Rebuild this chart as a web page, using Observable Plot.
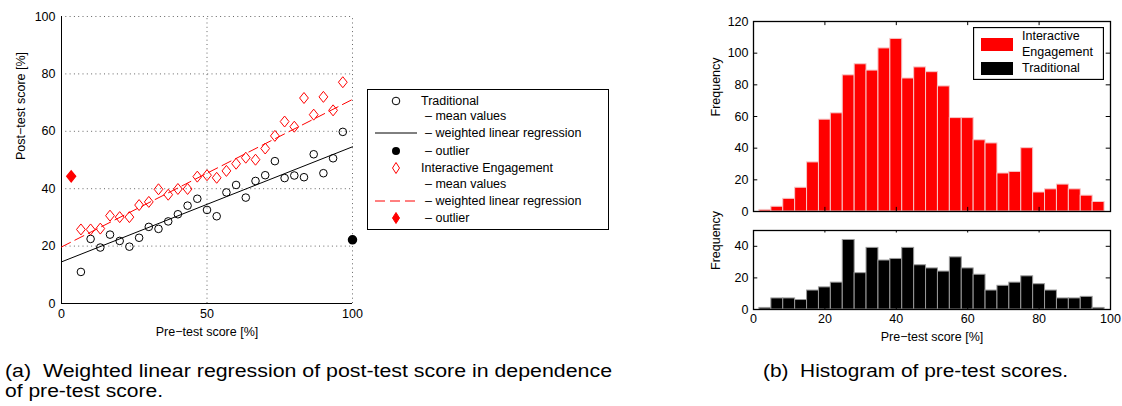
<!DOCTYPE html>
<html><head><meta charset="utf-8">
<script src="https://cdn.jsdelivr.net/npm/d3@7"></script>
<script src="https://cdn.jsdelivr.net/npm/@observablehq/plot@0.6"></script>
<style>
body{margin:0;background:#fff;font-family:"Liberation Sans",Arial,Helvetica,sans-serif;}
#root{position:relative;width:1122px;height:406px;overflow:hidden;background:#fff;}
</style></head><body><div id="root"></div>
<script>
// ---------- data ----------
const meanX = [6.67,10,13.33,16.67,20,23.33,26.67,30,33.33,36.67,40,43.33,46.67,50,53.33,56.67,60,63.33,66.67,70,73.33,76.67,80,83.33,86.67,90,93.33,96.67];
const tradMean = [11.0,22.5,19.5,24.0,21.8,19.8,22.9,26.7,26.0,28.6,31.1,34.1,36.5,32.6,30.4,38.7,41.3,36.9,42.7,44.7,49.6,43.7,44.6,44.0,52.0,45.4,50.6,59.8];
const ieMean = [25.8,25.8,26.1,30.6,30.1,30.1,34.3,35.4,39.8,37.9,39.9,39.9,44.2,44.7,43.8,46.2,48.7,50.8,50.1,54.0,58.4,63.4,61.6,71.6,65.8,72.0,67.3,77.1];
const tradOutlierX = [100], tradOutlierY = [22.2];
const ieOutlierX = [3.33], ieOutlierY = [44.3];
const fitX = [0, 100];
const tradFitY = [14.5, 54.6];
const ieFitY = [19.7, 71.1];

const binCenters = [3.33,6.67,10,13.33,16.67,20,23.33,26.67,30,33.33,36.67,40,43.33,46.67,50,53.33,56.67,60,63.33,66.67,70,73.33,76.67,80,83.33,86.67,90,93.33,96.67];
const ieCounts = [1,3,8,15,31,58,62,86,93,89,103,109,84,91,88,79,59,59,45,43,24,25,40,12,14,17,14,10,6];
const tradCounts = [1,7,7,6,12,14,17,44,23,39,31,32,39,28,26,24,33,26,22,12,15,17,21,16,12,7,7,8,1];

const xTicksA = [0,50,100];
const yTicksA = [0,20,40,60,80,100];
const xTicksB = [0,20,40,60,80,100];
const yTicksTop = [0,20,40,60,80,100,120];
const yTicksBot = [0,20,40];

const captionA = ["(a)\u00A0\u00A0Weighted linear regression of post-test score in dependence", "of pre-test score."];
const captionB = "(b)\u00A0\u00A0Histogram of pre-test scores.";

const RED = "#ff0000";
const FONT = "'Liberation Sans', Arial, Helvetica, sans-serif";
const root = document.getElementById("root");

// tall diamond symbol (MATLAB style)
const tallDiamond = {draw(ctx, size){ const w = Math.sqrt(size)*0.62, h = w*1.25; ctx.moveTo(0,-h); ctx.lineTo(w,0); ctx.lineTo(0,h); ctx.lineTo(-w,0); ctx.closePath(); }};

function place(node, left, top){ node.style.position="absolute"; node.style.left=left+"px"; node.style.top=top+"px"; root.appendChild(node); }

const baseStyle = {fontFamily: FONT, fontSize: "12px", color: "#000", background: "transparent", overflow: "visible"};

// ---------- (a) scatter + regression ----------
const trad = meanX.map((x,i)=>({x, y: tradMean[i]}));
const ie = meanX.map((x,i)=>({x, y: ieMean[i]}));
const tradFit = fitX.map((x,i)=>({x, y: tradFitY[i]}));
const ieFit = fitX.map((x,i)=>({x, y: ieFitY[i]}));
const tradOut = tradOutlierX.map((x,i)=>({x, y: tradOutlierY[i]}));
const ieOut = ieOutlierX.map((x,i)=>({x, y: ieOutlierY[i]}));

const plotA = Plot.plot({
  width: 362, height: 345,
  marginLeft: 61, marginRight: 10, marginTop: 16, marginBottom: 42,
  style: baseStyle,
  x: {domain: [0,100], axis: null},
  y: {domain: [0,100], axis: null},
  marks: [
    Plot.ruleY(yTicksA.filter(d=>d>0), {x1: 0, x2: 100, stroke: "#666", strokeDasharray: "1,3.3", strokeWidth: 1}),
    Plot.ruleX(xTicksA.filter(d=>d>0), {y1: 0, y2: 100, stroke: "#666", strokeDasharray: "1,3.3", strokeWidth: 1}),
    Plot.ruleX([0], {y1: 0, y2: 100, stroke: "#000"}),
    Plot.ruleY([0], {x1: 0, x2: 100, stroke: "#000"}),
    Plot.text(yTicksA, {x: 0, y: d=>d, text: d=>String(d), textAnchor: "end", dx: -6, fontSize: 12.5}),
    Plot.text(xTicksA, {x: d=>d, y: 0, text: d=>String(d), lineAnchor: "top", dy: 6, fontSize: 12.5}),
    Plot.text(["Pre−test score [%]"], {frameAnchor: "bottom", lineAnchor: "middle", dy: 28, fontSize: 12.5}),
    Plot.text(["Post−test score [%]"], {frameAnchor: "left", rotate: -90, dx: -41, fontSize: 12.5}),
    Plot.line(tradFit, {x: "x", y: "y", stroke: "#000", strokeWidth: 1}),
    Plot.line(ieFit, {x: "x", y: "y", stroke: RED, strokeWidth: 1, strokeDasharray: "10,5"}),
    Plot.dot(trad, {x: "x", y: "y", r: 3.8, stroke: "#000", strokeWidth: 1, fill: "none"}),
    Plot.dot(ie, {x: "x", y: "y", symbol: tallDiamond, r: 4, stroke: RED, strokeWidth: 1, fill: "none"}),
    Plot.dot(tradOut, {x: "x", y: "y", r: 4, fill: "#000", stroke: "#000"}),
    Plot.dot(ieOut, {x: "x", y: "y", symbol: tallDiamond, r: 4, fill: RED, stroke: RED})
  ]
});
place(plotA, 0, 0);

// legend (a)
const legA = document.createElementNS("http://www.w3.org/2000/svg","svg");
legA.setAttribute("width", 242); legA.setAttribute("height", 141);
legA.innerHTML = `
<rect x="0.5" y="0.5" width="241" height="140" fill="#fff" stroke="#000"/>
<g font-family="${FONT}" font-size="12.5" fill="#000" dominant-baseline="central">
<circle cx="29" cy="12" r="3.8" fill="none" stroke="#000"/>
<line x1="8" x2="50" y1="44" y2="44" stroke="#000"/>
<circle cx="29" cy="62" r="4" fill="#000"/>
<path d="M29,73.5L32.5,79L29,84.5L25.5,79Z" fill="none" stroke="${RED}"/>
<line x1="8" x2="50" y1="112" y2="112" stroke="${RED}" stroke-dasharray="10,5"/>
<path d="M29,123.5L32.5,129L29,134.5L25.5,129Z" fill="${RED}" stroke="${RED}"/>
<text x="54" y="12">Traditional</text>
<text x="58" y="27">– mean values</text>
<text x="58" y="44">– weighted linear regression</text>
<text x="58" y="62">– outlier</text>
<text x="54" y="79">Interactive Engagement</text>
<text x="58" y="95">– mean values</text>
<text x="58" y="112">– weighted linear regression</text>
<text x="58" y="129">– outlier</text>
</g>`;
place(legA, 367, 89);

// ---------- (b) histograms ----------
const ieBins = binCenters.map((c,i)=>({c, n: ieCounts[i]}));
const tradBins = binCenters.map((c,i)=>({c, n: tradCounts[i]}));
const half = 1.6667;

const plotTop = Plot.plot({
  width: 420, height: 222,
  marginLeft: 53, marginRight: 10, marginTop: 21, marginBottom: 11,
  style: baseStyle,
  x: {domain: [0,100], axis: null},
  y: {domain: [0,120], axis: null},
  marks: [
    Plot.rectY(ieBins, {x1: d=>d.c-half, x2: d=>d.c+half, y: "n", fill: RED, stroke: "#f7c6c6", strokeWidth: 1}),
    Plot.ruleY(yTicksTop, {x1: 0, x2: 1.2, stroke: "#000"}),
    Plot.ruleY(yTicksTop, {x1: 98.8, x2: 100, stroke: "#000"}),
    Plot.ruleX(xTicksB, {y1: 0, y2: 2.6, stroke: "#000"}),
    Plot.ruleX(xTicksB, {y1: 117.4, y2: 120, stroke: "#000"}),
    Plot.frame({stroke: "#000", strokeWidth: 1.3}),
    Plot.text(yTicksTop, {x: 0, y: d=>d, text: d=>String(d), textAnchor: "end", dx: -5, fontSize: 12.5}),
    Plot.text(["Frequency"], {frameAnchor: "left", rotate: -90, dx: -38, fontSize: 12.5})
  ]
});
place(plotTop, 700, 0);

const legB = document.createElementNS("http://www.w3.org/2000/svg","svg");
legB.setAttribute("width", 131); legB.setAttribute("height", 53);
legB.innerHTML = `
<rect x="0.5" y="0.5" width="130" height="52" fill="#fff" stroke="#000" stroke-width="1.3"/>
<rect x="8" y="11" width="32" height="13" fill="${RED}"/>
<rect x="8" y="35" width="32" height="13" fill="#000"/>
<g font-family="${FONT}" font-size="12.5" fill="#000" dominant-baseline="central">
<text x="49" y="9">Interactive</text>
<text x="49" y="25">Engagement</text>
<text x="49" y="41">Traditional</text>
</g>`;
place(legB, 973, 27);

const plotBot = Plot.plot({
  width: 420, height: 130,
  marginLeft: 53, marginRight: 10, marginTop: 8, marginBottom: 43,
  style: baseStyle,
  x: {domain: [0,100], axis: null},
  y: {domain: [0,50], axis: null},
  marks: [
    Plot.rectY(tradBins, {x1: d=>d.c-half, x2: d=>d.c+half, y: "n", fill: "#000", stroke: "#9a9a9a", strokeWidth: 1}),
    Plot.ruleY(yTicksBot, {x1: 0, x2: 1.2, stroke: "#000"}),
    Plot.ruleY(yTicksBot, {x1: 98.8, x2: 100, stroke: "#000"}),
    Plot.ruleX(xTicksB, {y1: 0, y2: 1.6, stroke: "#000"}),
    Plot.ruleX(xTicksB, {y1: 48.4, y2: 50, stroke: "#000"}),
    Plot.frame({stroke: "#000", strokeWidth: 1.3}),
    Plot.text(yTicksBot, {x: 0, y: d=>d, text: d=>String(d), textAnchor: "end", dx: -5, fontSize: 12.5}),
    Plot.text(xTicksB, {x: d=>d, y: 0, text: d=>String(d), lineAnchor: "top", dy: 5, fontSize: 12.5}),
    Plot.text(["Pre−test score [%]"], {frameAnchor: "bottom", lineAnchor: "middle", dy: 27, fontSize: 12.5}),
    Plot.text(["Frequency"], {frameAnchor: "left", rotate: -90, dx: -38, fontSize: 12.5})
  ]
});
place(plotBot, 700, 222);

// ---------- captions ----------
const capSvg = document.createElementNS("http://www.w3.org/2000/svg","svg");
capSvg.setAttribute("width", 1122); capSvg.setAttribute("height", 56);
function capText(t, x, y, len){ const e = document.createElementNS("http://www.w3.org/2000/svg","text"); e.setAttribute("x", x); e.setAttribute("y", y); e.setAttribute("font-family", FONT); e.setAttribute("font-size", 17.5); e.setAttribute("fill", "#000"); e.setAttribute("textLength", len); e.setAttribute("lengthAdjust", "spacingAndGlyphs"); e.textContent = t; capSvg.appendChild(e); }
capText(captionA[0], 5, 27, 607);
capText(captionA[1], 5, 47, 158);
capText(captionB, 763, 27, 305);
place(capSvg, 0, 350);
</script></body></html>
